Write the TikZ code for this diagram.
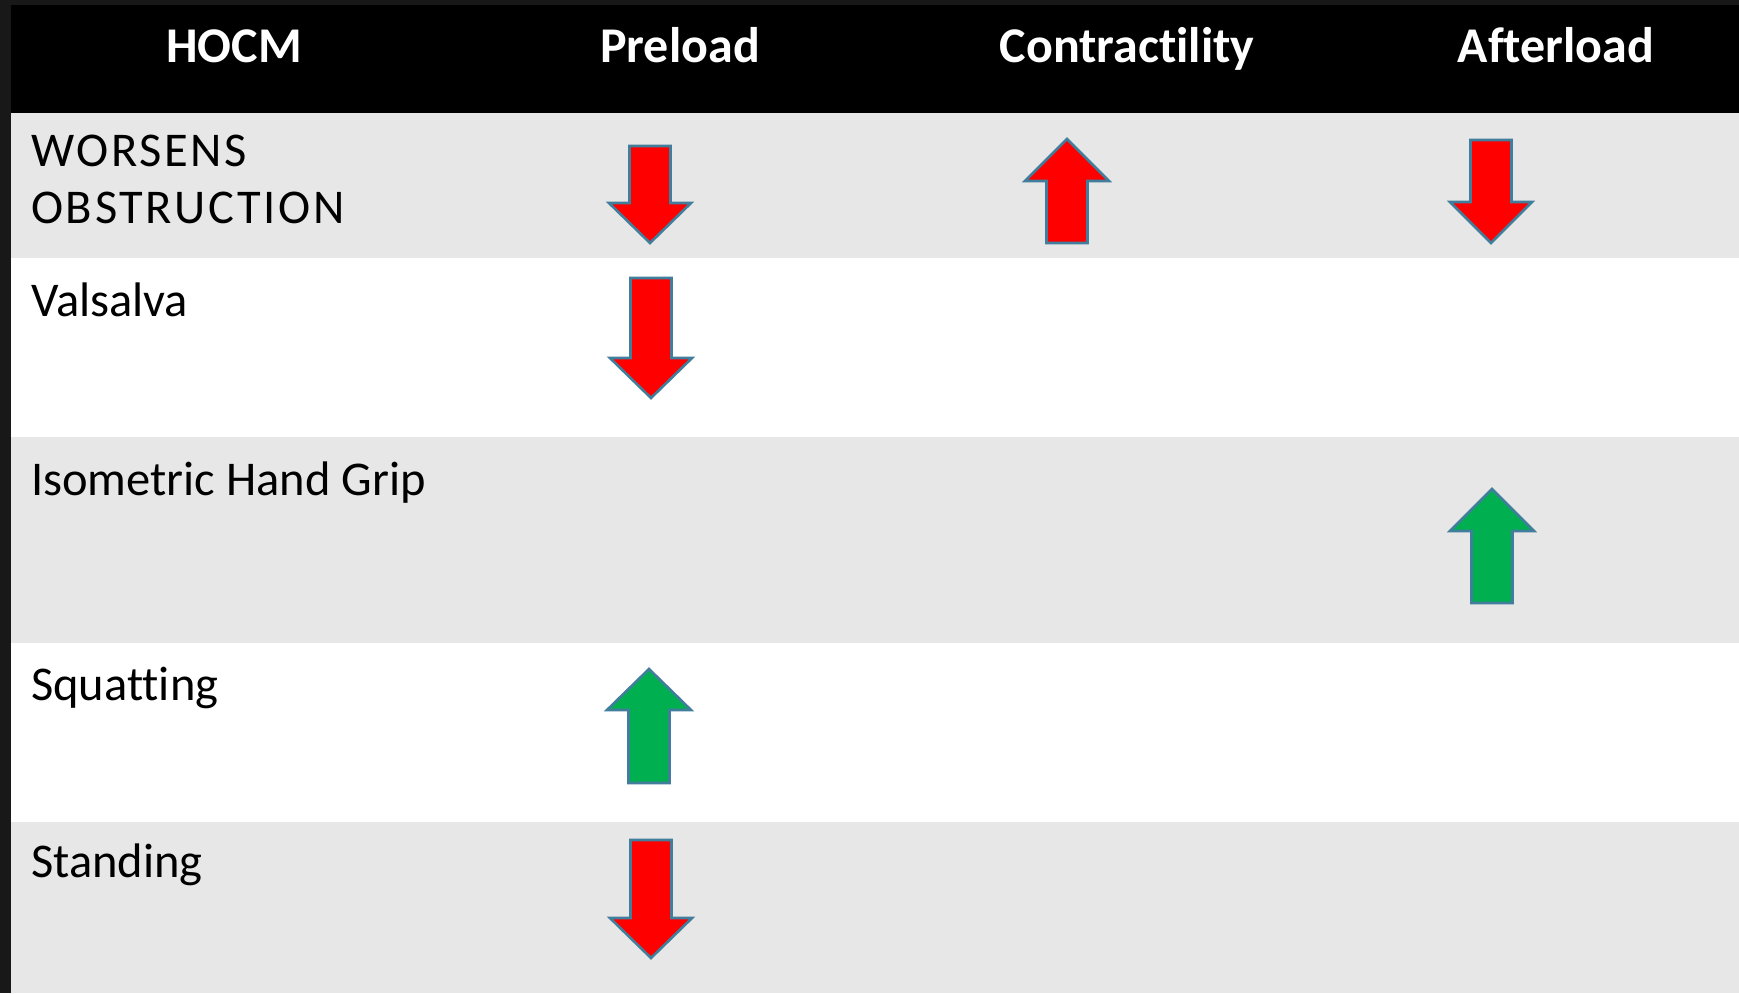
\documentclass[tikz,border=0pt]{standalone}
\usepackage{fontspec}
\setmainfont[Ligatures={NoCommon,NoRequired,NoContextual}]{Carlito}
\definecolor{board}{RGB}{24,24,24}
\definecolor{rowgray}{RGB}{231,231,231}
\definecolor{arrred}{RGB}{255,0,0}
\definecolor{arrgreen}{RGB}{0,176,80}
\definecolor{outline}{RGB}{65,126,156}
\tikzset{
  arrowshape/.style={draw=outline, line width=2.6pt, line join=miter},
  headtxt/.style={text=white, font=\fontsize{50}{57}\selectfont\bfseries, inner sep=0pt, anchor=base},
  celltxt/.style={text=black, font=\fontsize{48.5}{57}\selectfont, inner sep=0pt, anchor=base west, align=left},
}
% down arrow: center x, top y, head-base y, tip y, colour
\newcommand{\arrdn}[5]{%
  \filldraw[arrowshape, fill=#5] (#1-20.5,#2) -- (#1+20.5,#2) -- (#1+20.5,#3) -- (#1+41,#3) -- (#1,#4) -- (#1-41,#3) -- (#1-20.5,#3) -- cycle;}
% up arrow: center x, tip y, head-base y, bottom y, colour
\newcommand{\arrup}[5]{%
  \filldraw[arrowshape, fill=#5] (#1,#2) -- (#1+42,#3) -- (#1+20.5,#3) -- (#1+20.5,#4) -- (#1-20.5,#4) -- (#1-20.5,#3) -- (#1-42,#3) -- cycle;}
\begin{document}
\begin{tikzpicture}[x=1pt,y=-1pt]
\useasboundingbox (0,0) rectangle (1739,993);
\fill[board] (0,0) rectangle (1739,993);
% header and rows
\fill[black] (11,5) rectangle (1739,113);
\fill[rowgray] (11,113) rectangle (1739,258);
\fill[white] (11,258) rectangle (1739,437);
\fill[rowgray] (11,437) rectangle (1739,643);
\fill[white] (11,643) rectangle (1739,822);
\fill[rowgray] (11,822) rectangle (1739,993);
% header texts
\node[headtxt] (h1) at (234,62) {HOCM};
\node[headtxt] (h2) at (680,62) {Preload};
\node[headtxt] (h3) at (1127,62) {Contractility};
\node[headtxt] (h4) at (1556,62) {Afterload};
% row labels
\node[celltxt, font=\fontsize{48.5}{57}\selectfont\addfontfeature{LetterSpace=5.5}] (r1) at (31,223) {WORSENS\\OBSTRUCTION};
\node[celltxt] (r2) at (31,316) {Valsalva};
\node[celltxt] (r3) at (31,495) {Isometric Hand Grip};
\node[celltxt] (r4) at (31,700) {Squatting};
\node[celltxt] (r5) at (31,877) {Standing};
% arrows
\arrdn{650}{146}{203}{243}{arrred}
\arrup{1067}{139}{181}{243}{arrred}
\arrdn{1491}{140}{202}{243}{arrred}
\arrdn{651}{278}{358}{398}{arrred}
\arrup{1492}{489}{531}{603}{arrgreen}
\arrup{649}{669}{710}{783}{arrgreen}
\arrdn{651}{840}{918}{958}{arrred}
\end{tikzpicture}
\end{document}
